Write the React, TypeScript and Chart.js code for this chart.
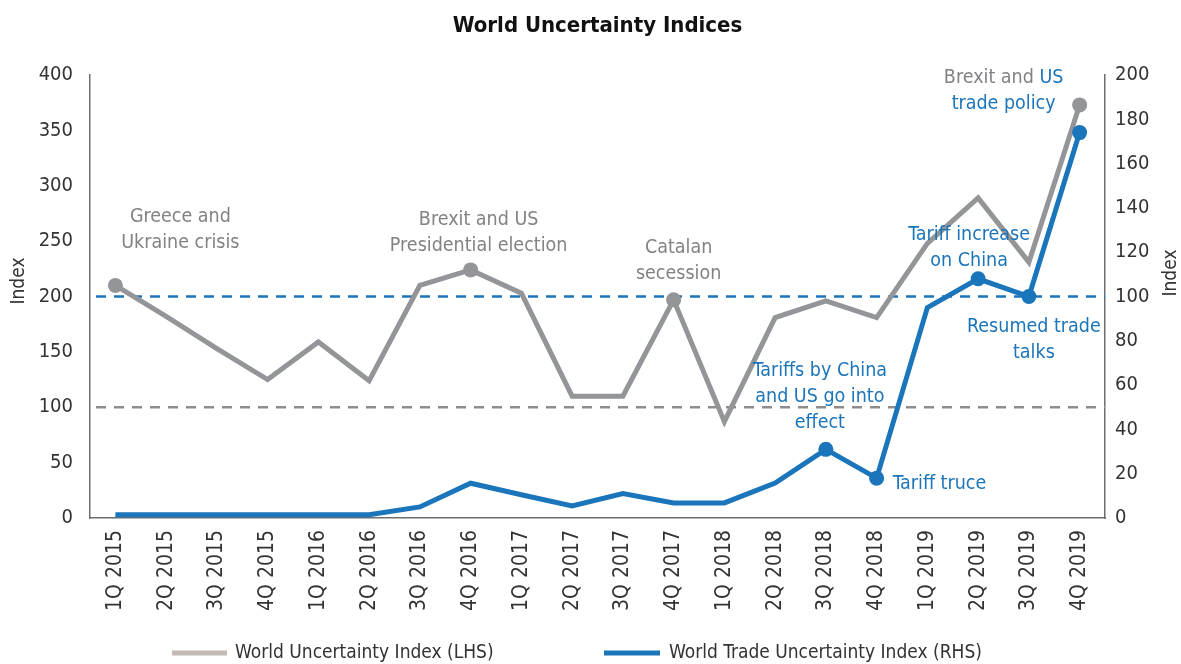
import React, { useEffect, useRef } from "react";
import { Chart, registerables } from "chart.js";

Chart.register(...registerables);

const categories = [
  "1Q 2015", "2Q 2015", "3Q 2015", "4Q 2015",
  "1Q 2016", "2Q 2016", "3Q 2016", "4Q 2016",
  "1Q 2017", "2Q 2017", "3Q 2017", "4Q 2017",
  "1Q 2018", "2Q 2018", "3Q 2018", "4Q 2018",
  "1Q 2019", "2Q 2019", "3Q 2019", "4Q 2019",
];

const wuiValues = [210, 182, 153, 125, 159, 124, 210, 224, 203, 110, 110, 197, 87, 181, 196, 181, 248, 289, 231, 373];
const wtuiValues = [1.5, 1.5, 1.5, 1.5, 1.5, 1.5, 5, 15.7, 10.5, 5.4, 11, 6.8, 6.8, 15.8, 31, 18, 95, 108, 100, 174];

const wuiMarkers = [0, 7, 11, 19];
const wtuiMarkers = [14, 15, 17, 18, 19];

const leftTicksMax = 400;
const leftStep = 50;
const rightTicksMax = 200;
const rightStep = 20;

const refLineWui = 100; // LHS
const refLineWtui = 100; // RHS

const titleText = "World Uncertainty Indices";
const axisTitle = "Index";
const legendLabels = ["World Uncertainty Index (LHS)", "World Trade Uncertainty Index (RHS)"];

const GRAY = "#939598";
const GRAY_TEXT = "#808285";
const GRAY_LEGEND = "#c3b9b4";
const BLUE = "#1b75bb";
const TEXT = "#333333";
const FONT = "'DejaVu Sans Condensed', 'DejaVu Sans', sans-serif";

type Seg = { text: string; color: string };
type Note = { series: "wui" | "wtui"; index: number; dx: number; dy: number; align: CanvasTextAlign; lines: Seg[][] };

const notes: Note[] = [
  { series: "wui", index: 0, dx: 65, dy: -68, align: "center", lines: [[{ text: "Greece and", color: GRAY_TEXT }], [{ text: "Ukraine crisis", color: GRAY_TEXT }]] },
  { series: "wui", index: 7, dx: 8, dy: -50, align: "center", lines: [[{ text: "Brexit and US", color: GRAY_TEXT }], [{ text: "Presidential election", color: GRAY_TEXT }]] },
  { series: "wui", index: 11, dx: 5, dy: -52, align: "center", lines: [[{ text: "Catalan", color: GRAY_TEXT }], [{ text: "secession", color: GRAY_TEXT }]] },
  { series: "wtui", index: 14, dx: -6, dy: -78, align: "center", lines: [[{ text: "Tariffs by China", color: BLUE }], [{ text: "and US go into", color: BLUE }], [{ text: "effect", color: BLUE }]] },
  { series: "wtui", index: 15, dx: 16, dy: 6, align: "left", lines: [[{ text: "Tariff truce", color: BLUE }]] },
  { series: "wtui", index: 17, dx: -9, dy: -44, align: "center", lines: [[{ text: "Tariff increase", color: BLUE }], [{ text: "on China", color: BLUE }]] },
  { series: "wtui", index: 18, dx: 5, dy: 30, align: "center", lines: [[{ text: "Resumed trade", color: BLUE }], [{ text: "talks", color: BLUE }]] },
  { series: "wui", index: 19, dx: -76, dy: -27, align: "center", lines: [[{ text: "Brexit and ", color: GRAY_TEXT }, { text: "US", color: BLUE }], [{ text: "trade policy", color: BLUE }]] },
];

const overlayPlugin = {
  id: "overlay",
  beforeDatasetsDraw(chart: any) {
    const { ctx, chartArea } = chart;
    const yL = chart.scales.y;
    const yR = chart.scales.y1;
    ctx.save();
    ctx.lineWidth = 2.5;
    ctx.setLineDash([10, 8]);
    let py = yL.getPixelForValue(refLineWui);
    ctx.strokeStyle = "#8f8c8b";
    ctx.beginPath();
    ctx.moveTo(chartArea.left + 6, py);
    ctx.lineTo(chartArea.right, py);
    ctx.stroke();
    py = yR.getPixelForValue(refLineWtui);
    ctx.strokeStyle = BLUE;
    ctx.beginPath();
    ctx.moveTo(chartArea.left + 6, py);
    ctx.lineTo(chartArea.right, py);
    ctx.stroke();
    ctx.restore();
  },
  afterDraw(chart: any) {
    const { ctx } = chart;
    const xS = chart.scales.x;
    const yL = chart.scales.y;
    const yR = chart.scales.y1;
    ctx.save();
    // title
    ctx.font = `bold 22px ${FONT}`;
    ctx.fillStyle = "#111";
    ctx.textAlign = "center";
    ctx.textBaseline = "middle";
    ctx.fillText(titleText, chart.width / 2 + 7, 26);

    // axis titles (both read bottom to top)
    ctx.font = `19px ${FONT}`;
    ctx.fillStyle = TEXT;
    [[19, 281], [1171, 273]].forEach(([x, y]) => {
      ctx.save();
      ctx.translate(x, y);
      ctx.rotate(-Math.PI / 2);
      ctx.fillText(axisTitle, 0, 0);
      ctx.restore();
    });

    // annotations
    ctx.font = `19.5px ${FONT}`;
    const lh = 26;
    notes.forEach((n) => {
      const val = n.series === "wui" ? wuiValues[n.index] : wtuiValues[n.index];
      const ax = xS.getPixelForValue(n.index);
      const ay = (n.series === "wui" ? yL : yR).getPixelForValue(val);
      n.lines.forEach((segs, li) => {
        const y = ay + n.dy + li * lh;
        const total = segs.reduce((s, g) => s + ctx.measureText(g.text).width, 0);
        let x = ax + n.dx;
        if (n.align === "center") x -= total / 2;
        ctx.textAlign = "left";
        segs.forEach((g) => {
          ctx.fillStyle = g.color;
          ctx.fillText(g.text, x, y);
          x += ctx.measureText(g.text).width;
        });
      });
    });

    // legend
    const ly = 653;
    ctx.font = `19px ${FONT}`;
    ctx.lineWidth = 5;
    ctx.setLineDash([]);
    ctx.strokeStyle = GRAY_LEGEND;
    ctx.beginPath();
    ctx.moveTo(172, ly);
    ctx.lineTo(227, ly);
    ctx.stroke();
    ctx.strokeStyle = BLUE;
    ctx.beginPath();
    ctx.moveTo(604, ly);
    ctx.lineTo(660, ly);
    ctx.stroke();
    ctx.fillStyle = TEXT;
    ctx.textAlign = "left";
    ctx.fillText(legendLabels[0], 235, ly);
    ctx.fillText(legendLabels[1], 669, ly);
    ctx.restore();
  },
};

export default function App() {
  const ref = useRef<HTMLCanvasElement>(null);
  useEffect(() => {
    document.body.style.margin = "0";
    const canvas = ref.current!;
    const chart = new Chart(canvas, {
      type: "line",
      data: {
        labels: categories,
        datasets: [
          {
            label: legendLabels[1],
            data: wtuiValues,
            yAxisID: "y1",
            borderColor: BLUE,
            backgroundColor: BLUE,
            borderWidth: 5,
            pointRadius: wtuiValues.map((_, i) => (wtuiMarkers.includes(i) ? 7.5 : 0)),
            pointBorderWidth: 0,
            pointHoverRadius: 0,
            tension: 0,
            order: 0,
          },
          {
            label: legendLabels[0],
            data: wuiValues,
            yAxisID: "y",
            borderColor: GRAY,
            backgroundColor: GRAY,
            borderWidth: 5,
            pointRadius: wuiValues.map((_, i) => (wuiMarkers.includes(i) ? 7.5 : 0)),
            pointBorderWidth: 0,
            pointHoverRadius: 0,
            tension: 0,
            order: 1,
          },
        ],
      },
      options: {
        animation: false,
        responsive: false,
        maintainAspectRatio: false,
        layout: { padding: { top: 75, left: 0, right: 0, bottom: 0 } },
        plugins: { legend: { display: false }, title: { display: false }, tooltip: { enabled: false } },
        scales: {
          x: {
            type: "category",
            offset: true,
            grid: { display: false, drawTicks: false },
            border: { display: true, color: "#6d6e71", width: 1.5 },
            ticks: { minRotation: 90, maxRotation: 90, autoSkip: false, padding: 12, color: TEXT, font: { family: FONT, size: 21 } },
            afterFit: (s: any) => { s.height = 146; },
          },
          y: {
            position: "left",
            min: 0,
            max: leftTicksMax,
            grid: { display: false, drawTicks: false },
            border: { display: true, color: "#6d6e71", width: 1.5 },
            ticks: { stepSize: leftStep, padding: 17, color: TEXT, font: { family: FONT, size: 20 } },
            afterFit: (s: any) => { s.width = 90; },
          },
          y1: {
            position: "right",
            min: 0,
            max: rightTicksMax,
            grid: { display: false, drawTicks: false },
            border: { display: true, color: "#6d6e71", width: 1.5 },
            ticks: { stepSize: rightStep, padding: 10, color: TEXT, font: { family: FONT, size: 20 } },
            afterFit: (s: any) => { s.width = 76; },
          },
        },
      },
      plugins: [overlayPlugin],
    });
    return () => chart.destroy();
  }, []);
  return (
    <div style={{ width: 1181, height: 664 }}>
      <canvas ref={ref} width={1181} height={664} />
    </div>
  );
}
